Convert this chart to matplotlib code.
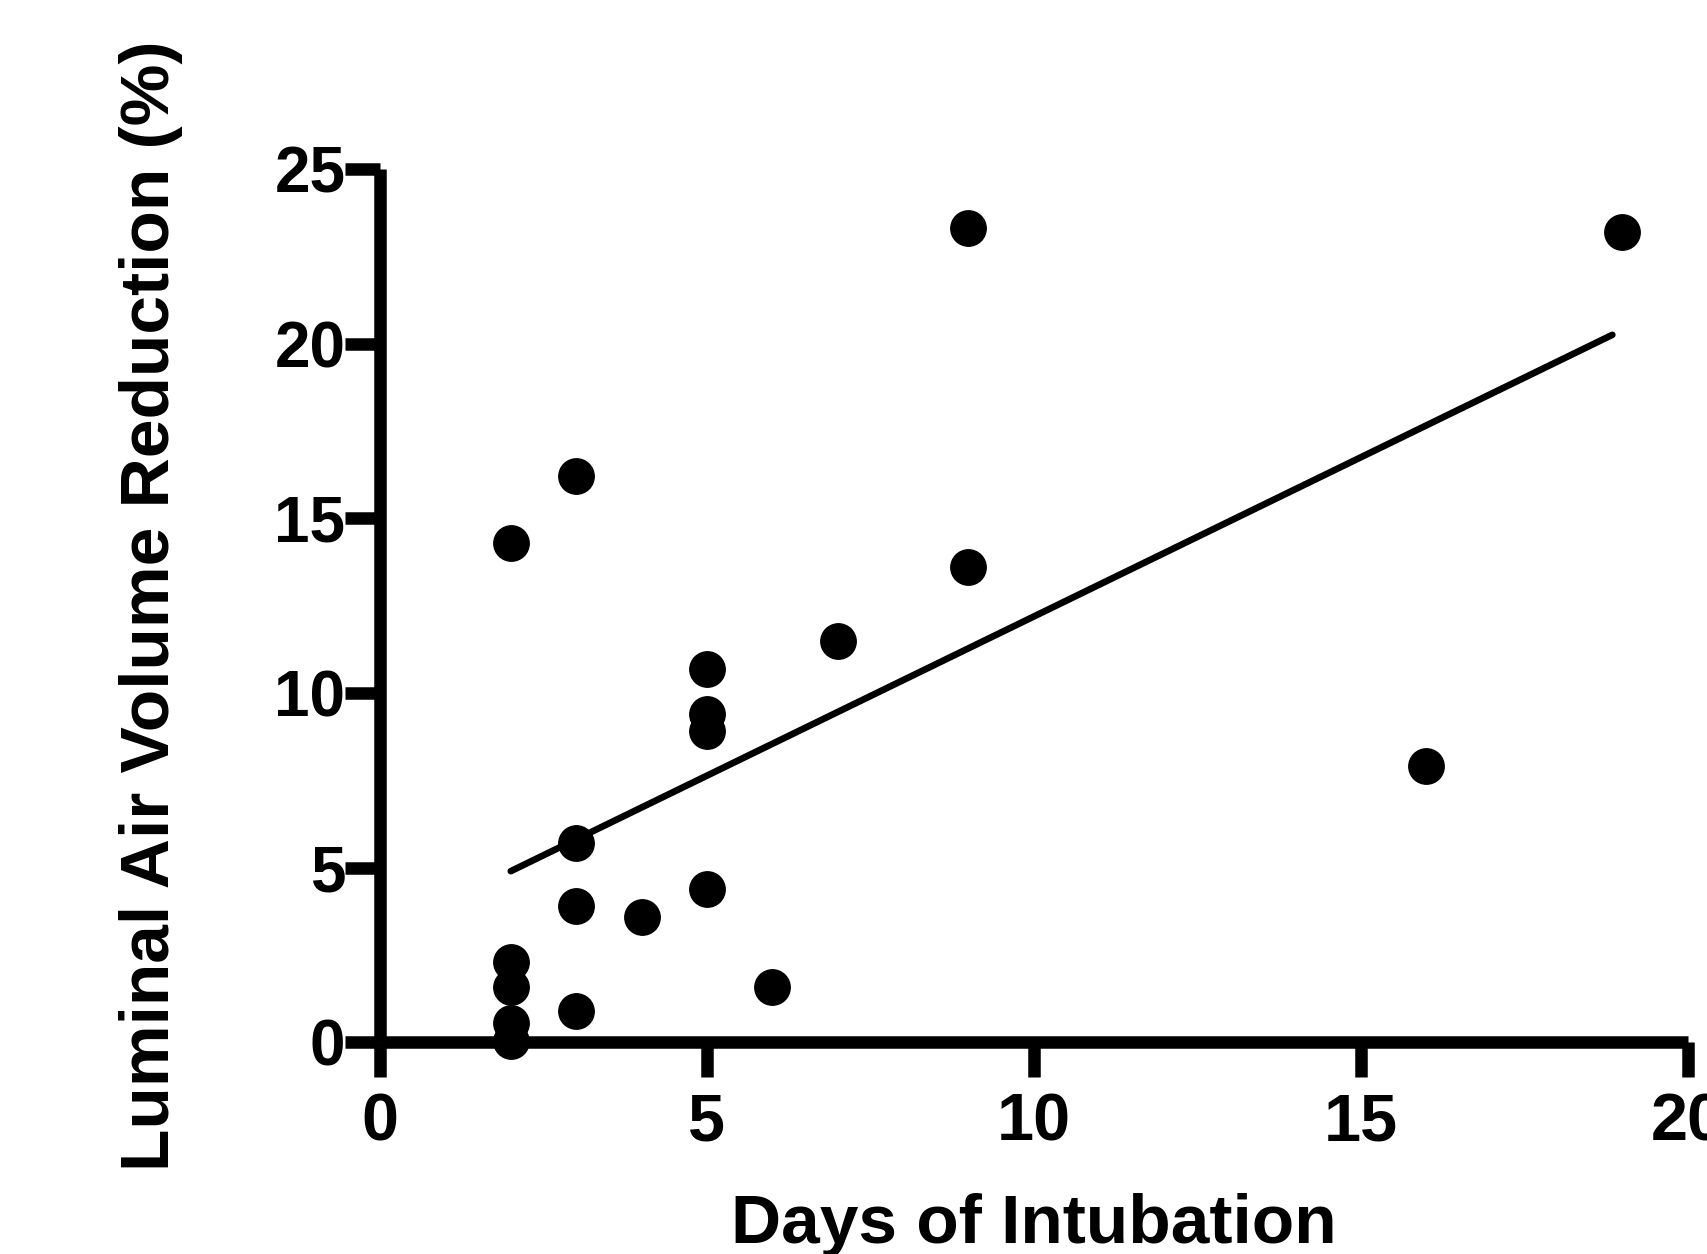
import numpy as np
import matplotlib
matplotlib.use("Agg")
from matplotlib import pyplot as plt

# days of intubation vs luminal air volume reduction (%)
days = [2, 3, 9, 19, 9, 7, 5, 5, 5, 16, 3, 5, 3, 4, 2, 2, 6, 3, 2, 2]
reduction = [14.3, 16.2, 23.3, 23.2, 13.6, 11.5, 10.7, 9.4, 8.9, 7.9,
             5.7, 4.4, 3.9, 3.6, 2.3, 1.6, 1.6, 0.9, 0.55, 0.05]
x_ticks = [0, 5, 10, 15, 20]
y_ticks = [0, 5, 10, 15, 20, 25]

plt.rcParams["font.family"] = ["Liberation Sans", "DejaVu Sans"]

fig = plt.figure(figsize=(17.08, 12.54), dpi=100)
ax = fig.add_axes([0.2225, 0.1687, 0.7655, 0.6967])

ax.plot(days, reduction, "o", color="black", markersize=25.5, zorder=3,
        clip_on=False)

# least-squares line over the observed range
slope, icept = np.polyfit(days, reduction, 1)
xs = np.array([min(days), max(days) - 0.15])
ax.plot(xs, slope * xs + icept, color="black", lw=4.8,
        solid_capstyle="round", zorder=2)

ax.set_xlim(0, 20)
ax.set_ylim(0, 25)
ax.set_xticks(x_ticks)
ax.set_yticks(y_ticks)
for side in ("top", "right"):
    ax.spines[side].set_visible(False)
for side in ("left", "bottom"):
    ax.spines[side].set_linewidth(9)
    ax.spines[side].set_capstyle("butt")
ax.tick_params(direction="out", length=25, width=9, color="black")
ax.tick_params(axis="x", pad=11)
ax.tick_params(axis="y", pad=0)
for lab in ax.get_xticklabels():
    lab.set_fontsize(48)
    lab.set_fontweight("bold")
for lab in ax.get_yticklabels():
    lab.set_fontsize(46)
    lab.set_fontweight("bold")

ax.set_xlabel("Days of Intubation", fontsize=50, fontweight="bold",
              family=["Liberation Sans Narrow", "Liberation Sans"], labelpad=28)
ax.set_ylabel("Luminal Air Volume Reduction (%)", fontsize=50,
              fontweight="bold", labelpad=66)

fig.savefig("out.png", dpi=100, facecolor="white")
